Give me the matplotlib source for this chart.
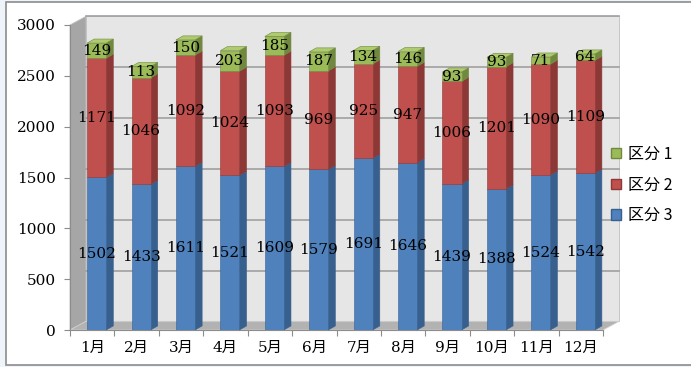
import matplotlib.pyplot as plt
import numpy as np
from matplotlib.patches import Polygon, Rectangle, Patch

# データ
months = ['1月', '2月', '3月', '4月', '5月', '6月', '7月', '8月', '9月', '10月', '11月', '12月']
kubun3 = [1502, 1433, 1611, 1521, 1609, 1579, 1691, 1646, 1439, 1388, 1524, 1542]
kubun2 = [1171, 1046, 1092, 1024, 1093, 969, 925, 947, 1006, 1201, 1090, 1109]
kubun1 = [149, 113, 150, 203, 185, 187, 134, 146, 93, 93, 71, 64]
series_names = ['区分 3', '区分 2', '区分 1']
yticks = [0, 500, 1000, 1500, 2000, 2500, 3000]

# 色 (正面, 側面, 上面)
colors = {
    '区分 3': ('#4F81BD', '#38608F', '#5E8FCB'),
    '区分 2': ('#C0504D', '#8C3836', '#CD6360'),
    '区分 1': ('#9BBB59', '#71893F', '#AECB6E'),
}

W, H = 691, 367
fig = plt.figure(figsize=(W / 100, H / 100), dpi=100)
fig.patch.set_facecolor('#EEF4F9')
# グラフエリア
fig.patches.append(Rectangle((6 / W, 1 - 365 / H), 700 / W, 363 / H, transform=fig.transFigure,
                             facecolor='white', edgecolor='#8C8C8C', linewidth=1.2, zorder=-5))

ax = fig.add_axes([70 / W, 37 / H, 533 / W, 305 / H])
ax.set_facecolor('none')
ax.set_xlim(-0.5, 11.5)
ax.set_ylim(0, 3000)

font_num = ['DejaVu Serif', 'Noto Sans CJK JP']

# 奥行き (データ単位)
DX, DY = 0.36, 85      # 壁
bx, by = 0.16, 40      # 棒
shift, w = 0.10, 0.43

# 壁と床
back = Polygon([(-0.5 + DX, DY), (11.5 + DX, DY), (11.5 + DX, 3000 + DY), (-0.5 + DX, 3000 + DY)],
               facecolor='#E6E6E6', edgecolor='#BFBFBF', lw=0.6, clip_on=False, zorder=1)
left = Polygon([(-0.5, 0), (-0.5 + DX, DY), (-0.5 + DX, 3000 + DY), (-0.5, 3000)],
               facecolor='#A6A6A6', edgecolor='#BFBFBF', lw=0.6, clip_on=False, zorder=1)
floor = Polygon([(-0.5, 0), (11.5, 0), (11.5 + DX, DY), (-0.5 + DX, DY)],
                facecolor='#B2B2B2', edgecolor='#D0D0D0', lw=0.6, clip_on=False, zorder=2)
for p in (back, left, floor):
    ax.add_patch(p)
for v in yticks[1:]:
    ax.plot([-0.5 + DX, 11.5 + DX], [v + DY, v + DY], color='#A0A0A0', lw=1.2,
            clip_on=False, zorder=1.5)

# 積み上げ棒 (3D風)
x = np.arange(len(months))
stack = [kubun3, kubun2, kubun1]
bottom = np.zeros(len(months))
for name, vals in zip(series_names, stack):
    vals = np.array(vals)
    front, side, top = colors[name]
    ax.bar(x + shift, vals, width=w, bottom=bottom, color=front, edgecolor=side,
           linewidth=0.4, zorder=5)
    for xi, b, v in zip(x, bottom, vals):
        r = xi + shift + w / 2
        l = xi + shift - w / 2
        t = b + v
        ax.add_patch(Polygon([(r, b), (r + bx, b + by), (r + bx, t + by), (r, t)],
                             facecolor=side, edgecolor=side, lw=0.4, clip_on=False, zorder=4))
        if name == '区分 1':
            ax.add_patch(Polygon([(l, t), (r, t), (r + bx, t + by), (l + bx, t + by)],
                                 facecolor=top, edgecolor=side, lw=0.4, clip_on=False, zorder=4))
        ax.text(xi + shift, b + v / 2, str(v), ha='center', va='center',
                fontsize=11, family=font_num, color='black', zorder=6)
    bottom = bottom + vals

# 軸
for s in ('top', 'right'):
    ax.spines[s].set_visible(False)
ax.spines['left'].set_color('#8C8C8C')
ax.spines['bottom'].set_color('#8C8C8C')
ax.spines['left'].set_zorder(3)
ax.spines['bottom'].set_zorder(3)
ax.set_yticks(yticks)
ax.set_yticklabels([str(v) for v in yticks], family=font_num, fontsize=11)
ax.tick_params(axis='y', length=4, color='#8C8C8C', pad=6)
ax.set_xticks(np.arange(-0.5, 12, 1))
ax.set_xticklabels([])
ax.tick_params(axis='x', which='major', length=4, color='#8C8C8C')
ax.set_xticks(x, minor=True)
ax.set_xticklabels(months, minor=True, family=font_num, fontsize=11)
ax.tick_params(axis='x', which='minor', length=0, pad=8)

# 凡例
handles = [Patch(facecolor=colors[n][0], edgecolor=colors[n][1], label=n) for n in series_names[::-1]]
fig.legend(handles=handles, loc='center left', bbox_to_anchor=(611 / W, 1 - 185 / H),
           frameon=False, borderpad=0, borderaxespad=0, handlelength=0.62, handleheight=0.62,
           handletextpad=0.45, labelspacing=0.85,
           prop={'family': 'Noto Sans CJK JP', 'size': 11.5})

fig.savefig('out.png', dpi=100, facecolor=fig.get_facecolor())
